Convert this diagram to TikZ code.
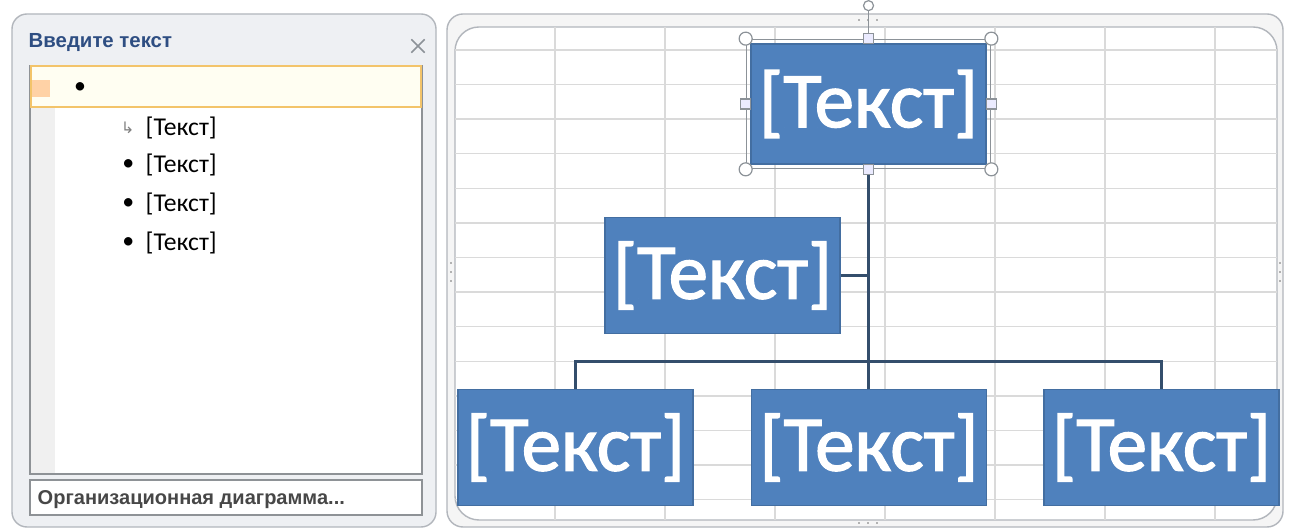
\documentclass[tikz,border=0pt]{standalone}
\usepackage{fontspec}
\setmainfont{Carlito}
\newfontfamily\uifont{Liberation Sans}
\newfontfamily\symfont{DejaVu Sans}
\newfontfamily\boxfont[FakeBold=1.6]{Carlito}
\usetikzlibrary{positioning,fit}

\definecolor{boxblue}{RGB}{79,129,189}
\definecolor{linkblue}{RGB}{52,78,108}
\definecolor{gridgray}{RGB}{218,218,218}
\definecolor{panelgray}{RGB}{238,240,243}
\definecolor{framegray}{RGB}{178,182,188}
\definecolor{titleblue}{RGB}{46,78,130}
\definecolor{selorange}{RGB}{243,196,106}
\definecolor{handlegray}{RGB}{140,146,152}

\begin{document}
\begin{tikzpicture}[x=0.1mm, y=-0.1mm,
  orgbox/.style={fill=boxblue, draw=boxblue!85!black, line width=0.15mm, minimum width=23.5mm,
    minimum height=11.6mm, inner sep=0pt, text=white, font=\boxfont\fontsize{22.5}{25}\selectfont},
  conn/.style={draw=linkblue, line width=0.3mm},
  item/.style={anchor=west, inner sep=0pt, font=\fontsize{7.3}{8}\selectfont},
  bulletmark/.style={inner sep=0pt, font=\fontsize{6.8}{8}\selectfont},
  corner/.style={circle, draw=handlegray, fill=white, minimum size=1.3mm, inner sep=0pt, line width=0.12mm},
  side/.style={rectangle, draw=handlegray, fill=blue!8, minimum size=1mm, inner sep=0pt, line width=0.12mm},
]
\useasboundingbox[fill=white] (0,0) rectangle (1290,529);

% diagram panel with sheet grid
\draw[framegray, fill=gray!8, rounded corners=1.6mm] (447,14) rectangle (1283,527);
\draw[framegray, fill=white, rounded corners=2.4mm] (455,27) rectangle (1277,520);
\begin{scope}
  \clip[rounded corners=2.4mm] (455,27) rectangle (1277,520);
  \foreach \gx in {555,665,...,1215} \draw[gridgray] (\gx,27) -- (\gx,520);
  \foreach \gy in {50,84.6,...,500} \draw[gridgray] (455,\gy) -- (1277,\gy);
\end{scope}
\draw[gray!60, dotted, line width=0.2mm] (858,20) -- (878,20) (858,523) -- (878,523)
  (451,262) -- (451,282) (1280,262) -- (1280,282);

% text pane
\draw[framegray, fill=panelgray, rounded corners=1.5mm] (12,14) rectangle (436,527);
\node[anchor=west, inner sep=0pt, text=titleblue, font=\uifont\bfseries\fontsize{5.8}{7}\selectfont] (title) at (28,43) {Введите текст};
\node[minimum size=1.2mm, inner sep=0pt] (close) at (418,46) {};
\draw[handlegray, line width=0.15mm] (close.north west) -- (close.south east) (close.north east) -- (close.south west);

\draw[framegray!80!black, fill=white] (30,66) rectangle (422,474);
\fill[gray!12] (31,67) rectangle (55,473);
\draw[selorange, fill=yellow!5, line width=0.15mm] (31,66) rectangle (421,107);
\fill[orange!35] (32,80) rectangle (50,97);
\node[bulletmark] (b0) at (80,88) {•};

\node[item] (i1) at (145,128) {[Текст]};
\node[item] (i2) at (145,165) {[Текст]};
\node[item] (i3) at (145,204) {[Текст]};
\node[item] (i4) at (145,243) {[Текст]};
\node[bulletmark, left=1mm of i1, text=gray, font=\symfont\fontsize{4.5}{5}\selectfont] (m1) {↳};
\foreach \i in {2,3,4} \node[bulletmark, left=1mm of i\i] (m\i) {•};

\draw[framegray!80!black, fill=white] (30,480) rectangle (422,515);
\node[anchor=west, inner sep=0pt, text=black!72, font=\uifont\bfseries\fontsize{5.7}{7}\selectfont] (orgname) at (37,500) {Организационная диаграмма...};

% org chart
\node[orgbox, minimum height=12mm] (head) at (868.5,104) {[Текст]};
\node[orgbox] (asst) at (722.5,275.5) {[Текст]};
\node[orgbox] (sub1) at (575.5,447.5) {[Текст]};
\node[orgbox, right=5.7mm of sub1] (sub2) {[Текст]};
\node[orgbox, right=5.6mm of sub2] (sub3) {[Текст]};

\coordinate (bar) at (0,362);
\draw[conn] (head.south) -- (head.south |- sub2.north);
\draw[conn] (asst.east) -- (asst.east -| head.south);
\draw[conn] (sub1.north) -- (sub1.north |- bar) -- (sub3.north |- bar) -- (sub3.north);

% selection handles
\node[fit=(head), inner sep=0.4mm, draw=handlegray, line width=0.12mm] (sel) {};
\node[corner, minimum size=1mm] (rot) at ([yshift=3.3mm]sel.north) {};
\draw[handlegray, line width=0.12mm] (rot) -- (sel.north);
\foreach \a in {north west,north east,south east,south west} \node[corner] at (sel.\a) {};
\foreach \a in {north,east,south,west} \node[side] at (sel.\a) {};
\end{tikzpicture}
\end{document}
